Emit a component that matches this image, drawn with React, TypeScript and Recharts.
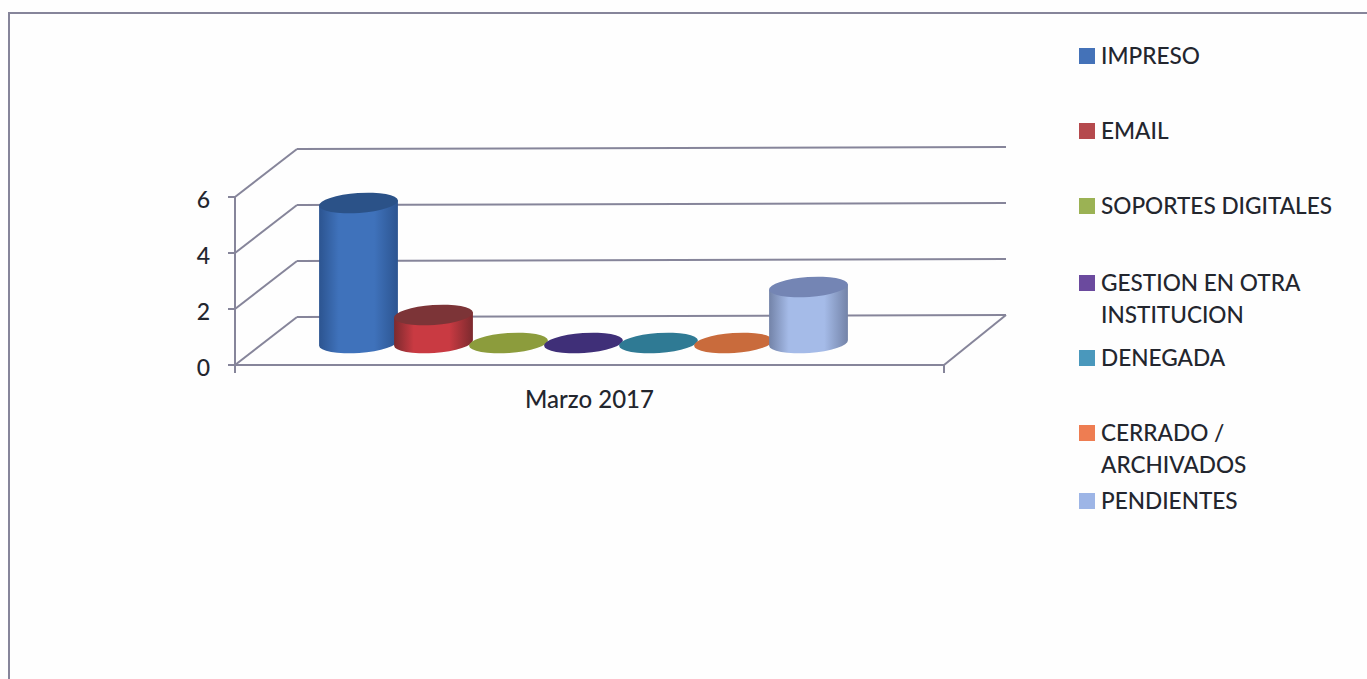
import { Bar, BarChart, CartesianGrid, Legend, XAxis, YAxis } from "recharts";

const CHART_WIDTH = 1367;
const CHART_HEIGHT = 679;
const FONT = "Lato, 'Open Sans', sans-serif";
const TEXT_COLOR = "#23262e";
const LINE_COLOR = "#86859a";

const CATEGORY = "Marzo 2017";
const SERIES_NAMES = [
  "IMPRESO",
  "EMAIL",
  "SOPORTES DIGITALES",
  "GESTION EN OTRA INSTITUCION",
  "DENEGADA",
  "CERRADO / ARCHIVADOS",
  "PENDIENTES",
];
const SERIES_VALUES = [5, 1, 0, 0, 0, 0, 2];
const Y_TICKS = [0, 2, 4, 6];

const LEGEND_COLORS = ["#4472b8", "#b5494d", "#9bb254", "#6b4a9e", "#4a98bc", "#ee7d52", "#9db5e6"];
const BODY_COLORS = ["#3f72bb", "#c93a42", "#8c9c3c", "#3f2f78", "#2f7a94", "#c96b3c", "#a5bbe8"];
const EDGE_COLORS = ["#2c5490", "#7c2a2e", "#76852f", "#33265f", "#266578", "#b05a30", "#7383a8"];
const TOP_COLORS = ["#2b5288", "#7c3437", "#8c9c3c", "#3f2f78", "#2f7a94", "#c96b3c", "#7485b4"];

/** Vertical centre of each legend row. */
const LEGEND_ROW_Y = [56, 131, 206, 299, 358, 449, 501];

/** Offset of the back wall from the front of the floor. */
const WALL_DX = 62;
const WALL_DY = -48;
/** Cylinders stand in the middle of the floor. */
const BAR_DX = -6;
const BAR_DY = -22;
const TILT_DEG = -4;
const TOP_RY = 10;

const chartData = [
  SERIES_NAMES.reduce<Record<string, string | number>>(
    (row, name, i) => {
      row[name] = SERIES_VALUES[i];
      return row;
    },
    { month: CATEGORY },
  ),
];

function renderWallLine(props: any) {
  const { x1, x2, y1, y, height } = props;
  const isFloor = y1 >= y + height - 0.5;
  const backY = y1 + WALL_DY;
  return (
    <g key={`wall-${y1}`} stroke={LINE_COLOR} strokeWidth={2} fill="none">
      <line x1={x1} y1={y1} x2={x1 + WALL_DX} y2={backY} />
      <line x1={x1 + WALL_DX} y1={backY} x2={x2 + WALL_DX} y2={backY - 2} />
      {isFloor && (
        <>
          <line x1={x2} y1={y1} x2={x2 + WALL_DX} y2={backY - 2} />
          <line x1={x2} y1={y1} x2={x2} y2={y1 + 8} />
          <line x1={x1} y1={y1} x2={x1} y2={y1 + 8} />
        </>
      )}
    </g>
  );
}

function makeCylinder(index: number) {
  return function CylinderShape(props: any) {
    const { x, y, width, height } = props;
    const cx = x + width / 2 + BAR_DX;
    const rx = width / 2 + 2;
    const topY = y + BAR_DY;
    const baseY = topY + height;
    const tilt = (TILT_DEG * Math.PI) / 180;
    const ex = rx * Math.cos(tilt);
    const ey = rx * Math.sin(tilt);
    const gradientId = `cyl-${index}`;
    const body =
      `M ${cx - ex} ${topY - ey} L ${cx - ex} ${baseY - ey} ` +
      `A ${rx} ${TOP_RY} ${TILT_DEG} 0 0 ${cx + ex} ${baseY + ey} ` +
      `L ${cx + ex} ${topY + ey} Z`;
    return (
      <g>
        <defs>
          <linearGradient id={gradientId} x1="0" y1="0" x2="1" y2="0">
            <stop offset="0%" stopColor={EDGE_COLORS[index]} />
            <stop offset="25%" stopColor={BODY_COLORS[index]} />
            <stop offset="70%" stopColor={BODY_COLORS[index]} />
            <stop offset="100%" stopColor={EDGE_COLORS[index]} />
          </linearGradient>
        </defs>
        {height > 0 && <path d={body} fill={`url(#${gradientId})`} />}
        <ellipse
          cx={cx}
          cy={topY}
          rx={rx}
          ry={TOP_RY}
          fill={TOP_COLORS[index]}
          transform={`rotate(${TILT_DEG} ${cx} ${topY})`}
        />
      </g>
    );
  };
}

function renderLegend(props: any) {
  const items = props.payload ?? [];
  return (
    <div style={{ position: "relative", width: 280, height: 0, fontFamily: FONT }}>
      {items.map((item: any, i: number) => (
        <div
          key={item.value}
          style={{
            position: "absolute",
            left: 0,
            top: LEGEND_ROW_Y[i],
            transform: "translateY(-50%)",
            display: "flex",
            alignItems: "flex-start",
            width: 270,
          }}
        >
          <span
            style={{
              flex: "none",
              width: 16,
              height: 16,
              marginTop: 8,
              marginRight: 6,
              background: item.color,
            }}
          />
          <span style={{ fontSize: 22.6, fontWeight: 500, lineHeight: "32px", color: TEXT_COLOR, width: 238 }}>
            {item.value}
          </span>
        </div>
      ))}
    </div>
  );
}

export default function App() {
  return (
    <div
      style={{
        position: "absolute",
        left: 0,
        top: 0,
        width: CHART_WIDTH,
        height: CHART_HEIGHT,
        overflow: "hidden",
        background: "#fefefe",
      }}
    >
      <div
        style={{
          position: "absolute",
          left: 8,
          top: 12,
          width: CHART_WIDTH,
          height: CHART_HEIGHT,
          borderLeft: `2px solid ${LINE_COLOR}`,
          borderTop: `2px solid ${LINE_COLOR}`,
        }}
      />
      <div style={{ position: "absolute", left: 0, top: 0 }}>
        <BarChart
          width={CHART_WIDTH}
          height={CHART_HEIGHT}
          data={chartData}
          margin={{ top: 197, right: 423, bottom: 284, left: 195 }}
          barSize={75}
          barGap={0}
        >
          <CartesianGrid vertical={false} horizontal={renderWallLine} horizontalValues={Y_TICKS} syncWithTicks />
          <XAxis
            dataKey="month"
            height={30}
            axisLine={{ stroke: LINE_COLOR, strokeWidth: 2 }}
            tickLine={false}
            tickMargin={20}
            tick={{ fill: TEXT_COLOR, fontSize: 24, fontWeight: 500, fontFamily: FONT }}
          />
          <YAxis
            width={40}
            domain={[0, 6]}
            ticks={Y_TICKS}
            interval={0}
            axisLine={{ stroke: LINE_COLOR, strokeWidth: 2 }}
            tickLine={{ stroke: LINE_COLOR, strokeWidth: 2 }}
            tickSize={7}
            tickMargin={18}
            tick={{ fill: TEXT_COLOR, fontSize: 23, fontWeight: 500, fontFamily: FONT, dy: 3 }}
          />
          <Legend
            layout="vertical"
            align="center"
            verticalAlign="middle"
            itemSorter={null}
            content={renderLegend}
            wrapperStyle={{ left: 1079, top: 0, width: 280, height: 0 }}
          />
          {SERIES_NAMES.map((name, i) => (
            <Bar
              key={name}
              dataKey={name}
              name={name}
              fill={LEGEND_COLORS[i]}
              shape={makeCylinder(i)}
              isAnimationActive={false}
            />
          ))}
        </BarChart>
      </div>
    </div>
  );
}
